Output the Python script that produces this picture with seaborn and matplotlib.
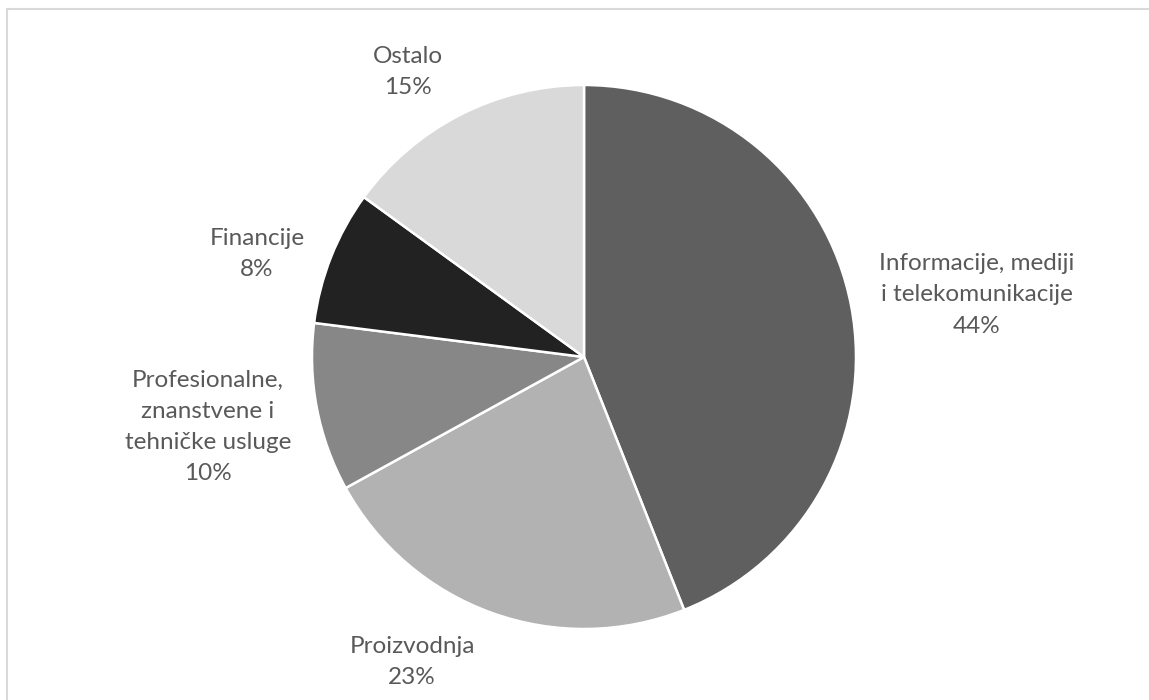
import matplotlib
matplotlib.use("Agg")
import matplotlib.pyplot as plt
import matplotlib.patches as ptc
import seaborn as sns

# shares by sector, clockwise from 12 o'clock
sectors = ["Informacije, mediji\ni telekomunikacije", "Proizvodnja",
           "Profesionalne,\nznanstvene i\ntehničke usluge", "Financije", "Ostalo"]
shares = [44, 23, 10, 8, 15]
colors = ["#5f5f5f", "#b2b2b2", "#878787", "#222222", "#d9d9d9"]

# label centres relative to pie centre, in pie radii
label_xy = [(1.445, 0.228), (-0.632, -1.121), (-1.382, -0.257), (-1.202, 0.379), (-0.647, 1.048)]

sns.set_theme(style="white")
plt.rcParams['font.family'] = ['Lato', 'DejaVu Sans']

W, H = 1149, 700
cx, cy, r = 584, 357, 272
fig = plt.figure(figsize=(W / 100, H / 100), dpi=100)
fig.patches.append(ptc.Rectangle((7 / W, -0.1), 1.2, 1.1 - 9 / H, transform=fig.transFigure,
                                 fill=False, edgecolor="#d9d9d9", linewidth=1.5))
ax = fig.add_axes([(cx - r) / W, (H - cy - r) / H, 2 * r / W, 2 * r / H])

wedges, _ = ax.pie(shares, colors=colors, startangle=90, counterclock=False,
                   radius=1, wedgeprops=dict(edgecolor="white", linewidth=1.8))
ax.set_xlim(-1, 1)
ax.set_ylim(-1, 1)

for name, val, (lx, ly) in zip(sectors, shares, label_xy):
    ax.text(lx, ly, f"{name}\n{val}%", ha="center", va="center", fontsize=17.5,
            color="#595959", linespacing=1.6, clip_on=False)

plt.savefig("out.png", dpi=100)
